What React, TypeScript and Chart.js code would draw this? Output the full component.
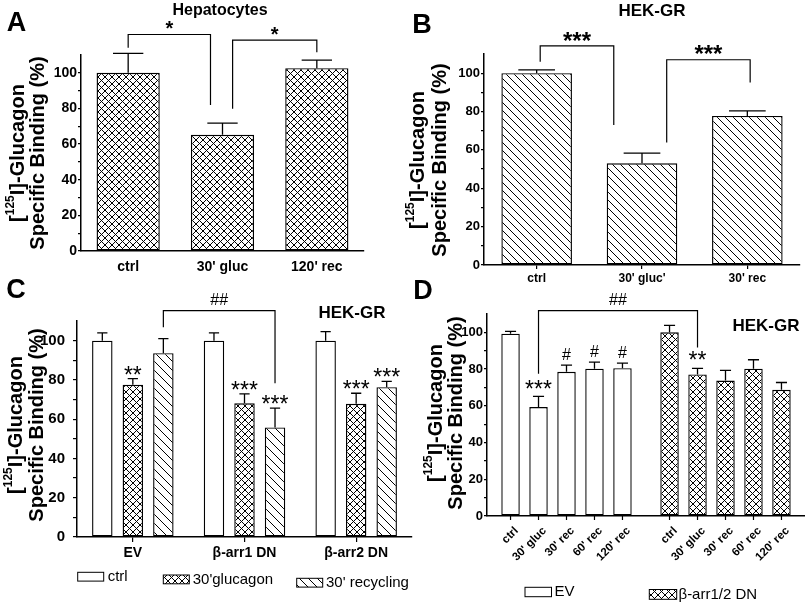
import React, { useEffect, useRef } from 'react';
import { Chart, registerables } from 'chart.js';

Chart.register(...registerables);

const FONT = "Arial, 'Liberation Sans', Helvetica, sans-serif";
const PAGE_W = 805;
const PAGE_H = 603;

// ---------------- data ----------------
const yTickValues = [0, 10, 20, 30, 40, 50, 60, 70, 80, 90, 100];
const yLabelStep = 20;

// Panel A - Hepatocytes
const aLabels = ['ctrl', "30' gluc", "120' rec"];
const aValues = [100, 65.2, 102.6];
const aErrTop = [110.9, 71.8, 107.1];

// Panel B - HEK-GR
const bLabels = ['ctrl', "30' gluc'", "30' rec"];
const bValues = [100, 53.0, 77.7];
const bErrTop = [101.7, 58.3, 80.3];

// Panel C - HEK-GR, grouped
const cGroups = ['EV', 'β-arr1 DN', 'β-arr2 DN'];
const cSeriesNames = ['ctrl', "30'glucagon", "30' recycling"];
const cCtrl = [100, 100, 100];
const cCtrlErr = [104.0, 104.0, 104.6];
const cGluc = [77.5, 68.1, 67.8];
const cGlucErr = [80.7, 72.9, 73.2];
const cRec = [93.6, 55.8, 76.3];
const cRecErr = [101.0, 65.6, 79.3];
const cGlucMarks = ['**', '***', '***'];
const cRecMarks = ['', '***', '***'];

// Panel D - HEK-GR, EV vs DN time course
const dGroups = ['EV', 'β-arr1/2 DN'];
const dConditions = ['ctrl', "30' gluc", "30' rec", "60' rec", "120' rec"];
const dEV = [99.3, 59.3, 78.5, 80.2, 80.5];
const dEVErr = [100.5, 65.1, 82.2, 83.8, 83.3];
const dDN = [100.0, 77.1, 73.8, 80.2, 68.7];
const dDNErr = [103.8, 80.4, 79.3, 85.1, 72.7];
const dEVMarks = ['', '***', '#', '#', '#'];
const dDNMarks = ['', '**', '', '', ''];

// significance brackets (levels in axis units)
const aBrackets = [
  { fromDs: 0, fromIdx: 0, fromShift: 0, toDs: 0, toIdx: 1, toShift: -0.19, top: 121.5, leftEnd: 114, rightEnd: 82, label: '*' },
  { fromDs: 0, fromIdx: 1, fromShift: 0.16, toDs: 0, toIdx: 2, toShift: 0, top: 118.3, leftEnd: 79.8, rightEnd: 111.6, label: '*' },
];
const bBrackets = [
  { fromDs: 0, fromIdx: 0, fromShift: 0.05, toDs: 0, toIdx: 1, toShift: -0.4, top: 114.2, leftEnd: 106, rightEnd: 73, label: '***' },
  { fromDs: 0, fromIdx: 1, fromShift: 0.35, toDs: 0, toIdx: 2, toShift: 0.04, top: 107, leftEnd: 63.8, rightEnd: 95.1, label: '***' },
];
const cBrackets = [
  { fromDs: 2, fromIdx: 0, fromShift: 0, toDs: 2, toIdx: 1, toShift: 0, top: 115.3, leftEnd: 106.8, rightEnd: 78.3, label: '##' },
];
const dBrackets = [
  { fromDs: 1, fromIdx: 0, fromShift: 0, toDs: 1, toIdx: 1, toShift: 0, top: 111.8, leftEnd: 77.5, rightEnd: 91.7, label: '##' },
];

// ---------------- helpers ----------------
type Geo = { left: number; right: number; top: number; bottom: number; yW: number; xH: number };

const geoA: Geo = { left: 81, right: 364, top: 55, bottom: 251, yW: 40, xH: 30 };
const geoB: Geo = { left: 484, right: 800, top: 54, bottom: 265, yW: 40, xH: 28 };
const geoC: Geo = { left: 77, right: 412, top: 321, bottom: 537, yW: 40, xH: 30 };
const geoD: Geo = { left: 487, right: 805, top: 314, bottom: 516, yW: 40, xH: 10 };

function padFor(g: Geo) {
  return { left: g.left - g.yW, right: PAGE_W - g.right, top: g.top, bottom: PAGE_H - g.bottom - g.xH };
}

function yAxis(g: Geo, size: number, tickLen: number, pad: number) {
  return {
    type: 'linear',
    min: 0,
    max: 110,
    afterFit: (s: any) => {
      s.width = g.yW;
    },
    afterBuildTicks: (s: any) => {
      s.ticks = yTickValues.map((v) => ({ value: v }));
    },
    ticks: {
      color: '#000',
      autoSkip: false,
      font: { family: FONT, size, weight: 'bold' },
      padding: pad,
      callback: (v: any) => (Number(v) % yLabelStep === 0 ? String(v) : ''),
    },
    grid: { display: true, drawOnChartArea: false, drawTicks: true, tickLength: tickLen, color: '#000', lineWidth: 1.2 },
    border: { display: true, color: '#000', width: 1.5 },
  };
}

function xAxis(g: Geo, size: number, tickLen: number, pad: number, showTicks: boolean, showLabels = true) {
  return {
    type: 'category',
    afterFit: (s: any) => {
      s.height = g.xH;
    },
    ticks: {
      display: showLabels,
      color: '#000',
      autoSkip: false,
      maxRotation: 0,
      minRotation: 0,
      font: { family: FONT, size, weight: 'bold' },
      padding: pad,
    },
    grid: {
      display: true,
      drawOnChartArea: false,
      offset: false,
      tickLength: tickLen,
      color: showTicks ? '#000' : 'rgba(0,0,0,0)',
      lineWidth: 1.2,
    },
    border: { display: true, color: '#000', width: 1.5 },
  };
}

function makePattern(kind: 'cross' | 'back', size: number, lw = 1): CanvasPattern | string {
  const c = document.createElement('canvas');
  c.width = size;
  c.height = size;
  const g = c.getContext('2d');
  if (!g) return '#fff';
  g.fillStyle = '#fff';
  g.fillRect(0, 0, size, size);
  g.strokeStyle = '#000';
  g.lineWidth = lw;
  g.beginPath();
  for (let k = -1; k <= 1; k++) {
    g.moveTo(k * size, 0);
    g.lineTo(k * size + size, size);
    if (kind === 'cross') {
      g.moveTo(k * size, size);
      g.lineTo(k * size + size, 0);
    }
  }
  g.stroke();
  return g.createPattern(c, 'repeat') || '#fff';
}

function drawText(ctx: CanvasRenderingContext2D, text: string, x: number, y: number, font: string, align: CanvasTextAlign = 'center') {
  ctx.save();
  ctx.fillStyle = '#000';
  ctx.font = font;
  ctx.textAlign = align;
  ctx.textBaseline = 'middle';
  ctx.fillText(text, x, y);
  ctx.restore();
}

function drawMark(ctx: CanvasRenderingContext2D, text: string, x: number, cy: number, size: number, bold: boolean) {
  ctx.save();
  ctx.fillStyle = '#000';
  ctx.font = `${bold ? 'bold ' : ''}${size}px ${FONT}`;
  ctx.textAlign = 'center';
  ctx.textBaseline = 'alphabetic';
  const k = text.includes('*') ? 0.57 : 0.36;
  ctx.fillText(text, x, cy + k * size);
  ctx.restore();
}

function drawYTitle(ctx: CanvasRenderingContext2D, x1: number, x2: number, cy: number, size: number) {
  const main = `bold ${size}px ${FONT}`;
  const sup = `bold ${Math.round(size * 0.62)}px ${FONT}`;
  ctx.save();
  ctx.fillStyle = '#000';
  ctx.textBaseline = 'middle';
  ctx.textAlign = 'left';
  ctx.save();
  ctx.translate(x1, cy);
  ctx.rotate(-Math.PI / 2);
  ctx.font = main;
  const w1 = ctx.measureText('[').width;
  const w3 = ctx.measureText('I]-Glucagon').width;
  ctx.font = sup;
  const w2 = ctx.measureText('125').width;
  let x = -(w1 + w2 + w3) / 2;
  ctx.font = main;
  ctx.fillText('[', x, 0);
  x += w1;
  ctx.font = sup;
  ctx.fillText('125', x, -size * 0.36);
  x += w2;
  ctx.font = main;
  ctx.fillText('I]-Glucagon', x, 0);
  ctx.restore();
  ctx.save();
  ctx.translate(x2, cy);
  ctx.rotate(-Math.PI / 2);
  ctx.textAlign = 'center';
  ctx.font = main;
  ctx.fillText('Specific Binding (%)', 0, 0);
  ctx.restore();
  ctx.restore();
}

function errorBars(chart: any, dsIndex: number, tops: number[], capFrac: number) {
  const ctx: CanvasRenderingContext2D = chart.ctx;
  const y = chart.scales.y;
  const meta = chart.getDatasetMeta(dsIndex);
  ctx.save();
  ctx.strokeStyle = '#000';
  ctx.lineWidth = 1.3;
  meta.data.forEach((el: any, j: number) => {
    const t = tops[j];
    if (t == null) return;
    const py = y.getPixelForValue(t);
    const hw = (el.width * capFrac) / 2;
    ctx.beginPath();
    ctx.moveTo(el.x, el.y);
    ctx.lineTo(el.x, py);
    ctx.moveTo(el.x - hw, py);
    ctx.lineTo(el.x + hw, py);
    ctx.stroke();
  });
  ctx.restore();
}

function marks(chart: any, dsIndex: number, tops: number[], labels: string[], gap: number, starSize: number, hashSize: number) {
  const ctx: CanvasRenderingContext2D = chart.ctx;
  const y = chart.scales.y;
  const meta = chart.getDatasetMeta(dsIndex);
  meta.data.forEach((el: any, j: number) => {
    const s = labels[j];
    if (!s) return;
    const cy = y.getPixelForValue(tops[j]) - gap;
    drawMark(ctx, s, el.x, cy, s.includes('*') ? starSize : hashSize, false);
  });
}

function brackets(chart: any, list: any[], labelSize: number, bold: boolean, labelGap: number) {
  const ctx: CanvasRenderingContext2D = chart.ctx;
  const y = chart.scales.y;
  ctx.save();
  ctx.strokeStyle = '#000';
  ctx.lineWidth = 1.2;
  list.forEach((b) => {
    const e1: any = chart.getDatasetMeta(b.fromDs).data[b.fromIdx];
    const e2: any = chart.getDatasetMeta(b.toDs).data[b.toIdx];
    const x1 = e1.x + b.fromShift * e1.width;
    const x2 = e2.x + b.toShift * e2.width;
    const yt = y.getPixelForValue(b.top);
    ctx.beginPath();
    ctx.moveTo(x1, y.getPixelForValue(b.leftEnd));
    ctx.lineTo(x1, yt);
    ctx.lineTo(x2, yt);
    ctx.lineTo(x2, y.getPixelForValue(b.rightEnd));
    ctx.stroke();
    drawMark(ctx, b.label, (x1 + x2) / 2, yt - labelGap, labelSize, bold);
  });
  ctx.restore();
}

function legendBox(ctx: CanvasRenderingContext2D, x: number, y: number, w: number, h: number, fill: any) {
  ctx.save();
  ctx.fillStyle = fill;
  ctx.fillRect(x, y, w, h);
  ctx.strokeStyle = '#000';
  ctx.lineWidth = 1;
  ctx.strokeRect(x, y, w, h);
  ctx.restore();
}

const common = {
  responsive: false,
  animation: false,
  devicePixelRatio: 1,
  events: [],
  plugins: { legend: { display: false }, tooltip: { enabled: false }, title: { display: false } },
};

const barStyle = { borderColor: '#000', borderWidth: 1.4, borderSkipped: false };

// ---------------- charts ----------------
function buildA(canvas: HTMLCanvasElement) {
  const cross = makePattern('cross', 7);
  return new Chart(canvas, {
    type: 'bar',
    data: {
      labels: aLabels,
      datasets: [{ data: aValues, backgroundColor: cross, ...barStyle, barPercentage: 0.67, categoryPercentage: 1 }],
    },
    options: {
      ...common,
      layout: { padding: padFor(geoA) },
      scales: { x: xAxis(geoA, 14, 5, 3, false), y: yAxis(geoA, 14, 3, 1) },
    } as any,
    plugins: [
      {
        id: 'decorA',
        afterDatasetsDraw(chart: any) {
          errorBars(chart, 0, aErrTop, 0.48);
        },
        afterDraw(chart: any) {
          const ctx = chart.ctx;
          brackets(chart, aBrackets, 20, true, 11);
          drawText(ctx, 'Hepatocytes', 220, 11, `bold 16px ${FONT}`);
          drawText(ctx, 'A', 16.5, 24, `bold 27px ${FONT}`);
          drawYTitle(ctx, 18, 38, 153, 20);
        },
      },
    ],
  } as any);
}

function buildB(canvas: HTMLCanvasElement) {
  const back = makePattern('back', 8);
  return new Chart(canvas, {
    type: 'bar',
    data: {
      labels: bLabels,
      datasets: [{ data: bValues, backgroundColor: back, ...barStyle, barPercentage: 0.67, categoryPercentage: 1 }],
    },
    options: {
      ...common,
      layout: { padding: padFor(geoB) },
      scales: { x: xAxis(geoB, 12, 4, 2, true), y: yAxis(geoB, 13, 3, 1) },
    } as any,
    plugins: [
      {
        id: 'decorB',
        afterDatasetsDraw(chart: any) {
          errorBars(chart, 0, bErrTop, 0.52);
        },
        afterDraw(chart: any) {
          const ctx = chart.ctx;
          brackets(chart, bBrackets, 24, true, 11);
          drawText(ctx, 'HEK-GR', 652, 11, `bold 17px ${FONT}`);
          drawText(ctx, 'B', 422, 26, `bold 27px ${FONT}`);
          drawYTitle(ctx, 418, 440, 160, 20);
        },
      },
    ],
  } as any);
}

function buildC(canvas: HTMLCanvasElement) {
  const cross = makePattern('cross', 7);
  const back = makePattern('back', 9);
  const fills = ['#fff', cross, back];
  const series = [cCtrl, cGluc, cRec];
  const errs = [cCtrlErr, cGlucErr, cRecErr];
  return new Chart(canvas, {
    type: 'bar',
    data: {
      labels: cGroups,
      datasets: series.map((d, i) => ({
        label: cSeriesNames[i],
        data: d,
        backgroundColor: fills[i],
        ...barStyle,
        barPercentage: 0.67,
        categoryPercentage: 0.82,
      })),
    },
    options: {
      ...common,
      layout: { padding: padFor(geoC) },
      scales: { x: xAxis(geoC, 14, 5, 3, true), y: yAxis(geoC, 15, 4, 8) },
    } as any,
    plugins: [
      {
        id: 'decorC',
        afterDatasetsDraw(chart: any) {
          errs.forEach((e, i) => errorBars(chart, i, e, 0.5));
        },
        afterDraw(chart: any) {
          const ctx = chart.ctx;
          marks(chart, 1, cGlucErr, cGlucMarks, 9, 23, 16);
          marks(chart, 2, cRecErr, cRecMarks, 9, 23, 16);
          brackets(chart, cBrackets, 16, false, 11);
          drawText(ctx, 'HEK-GR', 352, 313, `bold 17px ${FONT}`);
          drawText(ctx, 'C', 16, 291, `bold 27px ${FONT}`);
          drawYTitle(ctx, 16, 37, 425, 20);
          // legend
          const lf = `15px ${FONT}`;
          const boxes = [
            { x: 77.7, y: 572.3, tx: 107.7, ty: 577 },
            { x: 163.3, y: 575, tx: 192.7, ty: 579.5 },
            { x: 296.7, y: 578.3, tx: 326, ty: 582.5 },
          ];
          boxes.forEach((b, i) => {
            legendBox(ctx, b.x, b.y, 26, 8.8, fills[i]);
            drawText(ctx, cSeriesNames[i], b.tx, b.ty, lf, 'left');
          });
        },
      },
    ],
  } as any);
}

function buildD(canvas: HTMLCanvasElement) {
  const cross = makePattern('cross', 7);
  const groupFills = ['#fff', cross];
  return new Chart(canvas, {
    type: 'bar',
    data: {
      labels: dGroups,
      datasets: dConditions.map((name, k) => ({
        label: name,
        data: [dEV[k], dDN[k]],
        backgroundColor: groupFills,
        ...barStyle,
        barPercentage: 0.66,
        categoryPercentage: 0.88,
      })),
    },
    options: {
      ...common,
      layout: { padding: padFor(geoD) },
      scales: { x: xAxis(geoD, 11, 0, 0, false, false), y: yAxis(geoD, 13, 3, 1) },
    } as any,
    plugins: [
      {
        id: 'decorD',
        afterDatasetsDraw(chart: any) {
          dConditions.forEach((_, k) => errorBars(chart, k, [dEVErr[k], dDNErr[k]], 0.6));
        },
        afterDraw(chart: any) {
          const ctx: CanvasRenderingContext2D = chart.ctx;
          const y = chart.scales.y;
          const axisY = y.getPixelForValue(0);
          // per-bar tick marks and rotated labels
          dConditions.forEach((name, k) => {
            const meta = chart.getDatasetMeta(k);
            meta.data.forEach((el: any) => {
              ctx.save();
              ctx.strokeStyle = '#000';
              ctx.lineWidth = 1.2;
              ctx.beginPath();
              ctx.moveTo(el.x, axisY);
              ctx.lineTo(el.x, axisY + 4);
              ctx.stroke();
              ctx.translate(el.x + 6, axisY + 13);
              ctx.rotate(-Math.PI / 4);
              ctx.fillStyle = '#000';
              ctx.font = `bold 11.5px ${FONT}`;
              ctx.textAlign = 'right';
              ctx.textBaseline = 'middle';
              ctx.fillText(name, 0, 0);
              ctx.restore();
            });
          });
          // significance marks
          dConditions.forEach((_, k) => {
            const meta = chart.getDatasetMeta(k);
            const pairs = [
              { el: meta.data[0], top: dEVErr[k], m: dEVMarks[k] },
              { el: meta.data[1], top: dDNErr[k], m: dDNMarks[k] },
            ];
            pairs.forEach((p: any) => {
              if (!p.m) return;
              const cy = y.getPixelForValue(p.top) - (p.m.includes('*') ? 13 : 11);
              drawMark(ctx, p.m, p.el.x, cy, p.m.includes('*') ? 23 : 16, false);
            });
          });
          brackets(chart, dBrackets, 16, false, 11);
          drawText(ctx, 'HEK-GR', 766, 326, `bold 17px ${FONT}`);
          drawText(ctx, 'D', 423, 292, `bold 27px ${FONT}`);
          drawYTitle(ctx, 436, 456, 413, 20);
          // legend
          const lf = `15px ${FONT}`;
          legendBox(ctx, 525, 587.3, 26.5, 9.4, groupFills[0]);
          drawText(ctx, dGroups[0], 554.5, 592, lf, 'left');
          legendBox(ctx, 649.3, 589.5, 27.4, 9.8, groupFills[1]);
          drawText(ctx, dGroups[1], 678.5, 594.5, lf, 'left');
        },
      },
    ],
  } as any);
}

export default function App() {
  const r0 = useRef<HTMLCanvasElement>(null);
  const r1 = useRef<HTMLCanvasElement>(null);
  const r2 = useRef<HTMLCanvasElement>(null);
  const r3 = useRef<HTMLCanvasElement>(null);

  useEffect(() => {
    const charts: Chart[] = [];
    if (r0.current) charts.push(buildA(r0.current));
    if (r1.current) charts.push(buildB(r1.current));
    if (r2.current) charts.push(buildC(r2.current));
    if (r3.current) charts.push(buildD(r3.current));
    return () => charts.forEach((c) => c.destroy());
  }, []);

  const cs: React.CSSProperties = { position: 'absolute', left: 0, top: 0, width: PAGE_W, height: PAGE_H };
  return (
    <div style={{ position: 'absolute', left: 0, top: 0, width: PAGE_W, height: PAGE_H, background: '#fff', overflow: 'hidden' }}>
      <canvas ref={r0} width={PAGE_W} height={PAGE_H} style={cs} />
      <canvas ref={r1} width={PAGE_W} height={PAGE_H} style={cs} />
      <canvas ref={r2} width={PAGE_W} height={PAGE_H} style={cs} />
      <canvas ref={r3} width={PAGE_W} height={PAGE_H} style={cs} />
    </div>
  );
}
